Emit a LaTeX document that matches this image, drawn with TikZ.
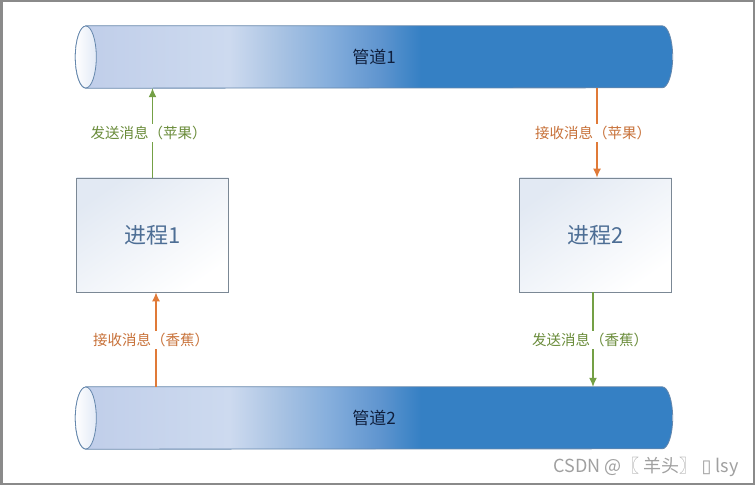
\documentclass[tikz,border=0pt]{standalone}
\usepackage{fontspec}
\setmainfont{Noto Sans CJK SC}
\newfontfamily\symfont{DejaVu Sans}
\usetikzlibrary{arrows.meta,backgrounds}

\definecolor{pipelight}{HTML}{BFCDE9}
\definecolor{pipepale}{HTML}{CDDAEF}
\definecolor{pipesoft}{HTML}{A9C3E3}
\definecolor{pipemid}{HTML}{85AEDC}
\definecolor{pipedeep}{HTML}{5F95CF}
\definecolor{pipedark}{HTML}{3580C4}
\definecolor{pipeedge}{HTML}{6587AC}
\definecolor{pipeface}{HTML}{E2EAF6}
\definecolor{pipetext}{HTML}{0F1F3D}
\definecolor{boxedge}{HTML}{7B8895}
\definecolor{boxtint}{HTML}{E2E9F3}
\definecolor{boxtext}{HTML}{4D6E95}
\definecolor{sendline}{HTML}{74A045}
\definecolor{sendtext}{HTML}{6A8C3A}
\definecolor{recvline}{HTML}{E07A38}
\definecolor{recvtext}{HTML}{C8723A}
\definecolor{framegray}{HTML}{8A8A8A}
\definecolor{marktext}{HTML}{A0A0A0}

\pgfdeclarehorizontalshading{pipeshade}{100bp}{color(0bp)=(pipelight); color(25bp)=(pipelight); color(37.9bp)=(pipepale); color(42.1bp)=(pipesoft); color(46.3bp)=(pipemid); color(50.5bp)=(pipedeep); color(53.9bp)=(pipedark); color(100bp)=(pipedark)}

\tikzset{
  pipe/.style={minimum width=576pt, minimum height=62pt, inner sep=0pt,
    text=pipetext, font=\fontsize{17}{19}\selectfont},
  proc/.style={draw=boxedge, line width=0.8pt, top color=boxtint, bottom color=white,
    shading angle=35, minimum width=152pt, minimum height=114pt,
    text=boxtext, font=\fontsize{22}{26}\selectfont},
  msg/.style={fill=white, inner sep=2pt, font=\fontsize{14.5}{17}\selectfont},
  send/.style={draw=sendline, line width=1.2pt, -{Latex[length=9pt,width=8pt]}},
  recv/.style={draw=recvline, line width=1.2pt, -{Latex[length=9pt,width=8pt]}},
}

\begin{document}
\begin{tikzpicture}[x=1pt,y=1pt]
\useasboundingbox (0,0) rectangle (755,485);

% pipes and processes
\node[pipe] (pipe1) at (374,428) {管道1};
\node[pipe] (pipe2) at (374,67) {管道2};
\node[proc] (proc1) at (152.5,250) {进程1};
\node[proc] (proc2) at (595.5,250) {进程2};

\begin{scope}[on background layer]
\foreach \p in {pipe1,pipe2}{
  \path[shade, shading=pipeshade, draw=pipeedge, line width=0.8pt]
    (\p.north west) -- (\p.north east)
    arc[start angle=90, end angle=-90, x radius=10.5pt, y radius=31pt]
    -- (\p.south west)
    arc[start angle=270, end angle=90, x radius=10.5pt, y radius=31pt] -- cycle;
  \path[draw=pipeedge, line width=0.8pt, left color=white, right color=pipeface]
    (\p.west) ellipse[x radius=10.5pt, y radius=31pt];
}
\end{scope}

% messages
\draw[send] (proc1.north) -- (proc1.north |- pipe1.south)
  node[msg, midway, xshift=-4pt, text=sendtext] (send1) {发送消息（苹果）};
\draw[recv] ([xshift=1.5pt]proc2.north |- pipe1.south) -- ([xshift=1.5pt]proc2.north)
  node[msg, midway, xshift=-4pt, text=recvtext] (recv1) {接收消息（苹果）};
\draw[recv] ([xshift=3.5pt]proc1.south |- pipe2.north) -- ([xshift=3.5pt]proc1.south)
  node[msg, midway, xshift=-5pt, text=recvtext] (recv2) {接收消息（香蕉）};
\draw[send] ([xshift=-2.5pt]proc2.south) -- ([xshift=-2.5pt]proc2.south |- pipe2.north)
  node[msg, midway, xshift=-3pt, text=sendtext] (send2) {发送消息（香蕉）};

\node[text=marktext, font=\fontsize{18}{20}\selectfont] (mark) at (646,18)
  {CSDN @〖 羊头〗 {\symfont ▯} lsy};

\draw[framegray, line width=2.5pt] (1.25,1.25) rectangle (753.75,483.75);
\end{tikzpicture}
\end{document}
